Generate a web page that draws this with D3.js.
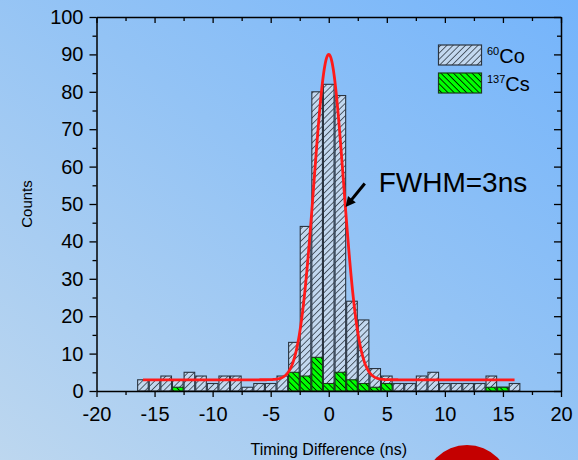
<!DOCTYPE html>
<html>
<head>
<meta charset="utf-8">
<script src="https://cdn.jsdelivr.net/npm/d3@7"></script>
<style>
  body { margin: 0; overflow: hidden; }
  text { font-family: "Liberation Sans", Arial, sans-serif; fill: #000; }
</style>
</head>
<body>
<div id="chart"></div>
<script>
// timing difference bins (ns) and counts per source
var bins = [-16, -15, -14, -13, -12, -11, -10, -9, -8, -7, -6, -5, -4, -3, -2, -1, 0,
            1, 2, 3, 4, 5, 6, 7, 8, 9, 10, 11, 12, 13, 14, 15, 16]
var co60 = [3, 3, 4, 3, 5, 4, 2, 4, 4, 1, 2, 2, 4, 13, 44, 80, 82,
            79, 24, 19, 6, 4, 2, 2, 4, 5, 2, 2, 2, 2, 4, 1, 2]
var cs137 = [0, 0, 0, 1, 0, 0, 0, 0, 0, 0, 0, 0, 0, 5, 4, 9, 2,
             5, 3, 2, 1, 2, 0, 0, 0, 0, 0, 0, 0, 0, 1, 1, 0]

var xTicks = [-20, -15, -10, -5, 0, 5, 10, 15, 20]
var yTicks = [0, 10, 20, 30, 40, 50, 60, 70, 80, 90, 100]

// gaussian fit: baseline, amplitude, centre, FWHM
var fitY0 = 3, fitA = 87, fitXc = 0, fitFwhm = 3
var fitRange = [-16, 16]

var W = 578, H = 460

var svg = d3.select('#chart')
            .append('svg')
            .attr('width', W)
            .attr('height', H)

var defs = svg.append('defs')

var bg = defs.append('linearGradient')
             .attr('id', 'bg')
             .attr('x1', 0).attr('y1', 1)
             .attr('x2', 1).attr('y2', 0)
bg.append('stop').attr('offset', '0%').attr('stop-color', '#bdd7ef')
bg.append('stop').attr('offset', '55%').attr('stop-color', '#93c3f5')
bg.append('stop').attr('offset', '100%').attr('stop-color', '#74b4fb')

function hatch(id, fill, angle, stroke, sw){
  var p = defs.append('pattern')
              .attr('id', id)
              .attr('patternUnits', 'userSpaceOnUse')
              .attr('width', 4.4)
              .attr('height', 4.4)
              .attr('patternTransform', 'rotate(' + angle + ')')
  p.append('rect').attr('width', 4.4).attr('height', 4.4).attr('fill', fill)
  p.append('line')
   .attr('x1', 0).attr('y1', 0).attr('x2', 0).attr('y2', 4.4)
   .attr('stroke', stroke).attr('stroke-width', sw)
}
hatch('coHatch', '#c3d8ef', 45, '#141c26', 1.3)
hatch('csHatch', '#00ff00', -45, '#000', 1.6)

svg.append('rect')
   .attr('width', W)
   .attr('height', H)
   .attr('fill', 'url(#bg)')

var x = d3.scaleLinear().domain([-20, 20]).range([96.5, 561])
var y = d3.scaleLinear().domain([0, 100]).range([391, 17])

var bw = x(1) - x(0)

// 60Co bars
svg.append('g').selectAll('rect')
   .data(bins)
   .enter().append('rect')
   .attr('x', function(d){ return x(d) - bw/2 + 0.5 })
   .attr('y', function(d, i){ return y(co60[i]) })
   .attr('width', bw - 1)
   .attr('height', function(d, i){ return y(0) - y(co60[i]) })
   .attr('fill', 'url(#coHatch)')
   .attr('stroke', '#2a3440')
   .attr('stroke-width', 1.1)

// 137Cs bars on top
svg.append('g').selectAll('rect')
   .data(bins.filter(function(d, i){ return cs137[i] > 0 }))
   .enter().append('rect')
   .attr('x', function(d){ return x(d) - bw/2 + 0.5 })
   .attr('y', function(d){ return y(cs137[bins.indexOf(d)]) })
   .attr('width', bw - 1)
   .attr('height', function(d){ return y(0) - y(cs137[bins.indexOf(d)]) })
   .attr('fill', 'url(#csHatch)')
   .attr('stroke', '#1a3a1a')
   .attr('stroke-width', 1.1)

// fit curve
var sigma = fitFwhm / (2 * Math.sqrt(2 * Math.log(2)))
var fitX = d3.range(fitRange[0], fitRange[1] + 0.001, 0.05)
var line = d3.line()
             .x(function(d){ return x(d) })
             .y(function(d){ return y(fitY0 + fitA * Math.exp(-(d - fitXc) * (d - fitXc) / (2 * sigma * sigma))) })
svg.append('path')
   .datum(fitX)
   .attr('d', line)
   .attr('fill', 'none')
   .attr('stroke', '#ff1a1a')
   .attr('stroke-width', 2.8)

// axes
function styleAxis(g){
  g.select('.domain').attr('stroke', '#000').attr('stroke-width', 1.5)
  g.selectAll('.tick line').attr('stroke', '#000').attr('stroke-width', 1.3)
  g.selectAll('text').style('font-size', '20px').attr('fill', '#000')
}

var xMinor = d3.range(-17.5, 20, 5)
var yMinor = d3.range(5, 100, 10)

var gB = svg.append('g').attr('transform', 'translate(0,' + y(0) + ')')
            .call(d3.axisBottom(x).tickValues(xTicks).tickSize(6).tickSizeOuter(0).tickPadding(10)
            .tickFormat(function(d){ return d < 0 ? '-' + Math.abs(d) : d }))
styleAxis(gB)
svg.append('g').attr('transform', 'translate(0,' + y(0) + ')')
   .call(d3.axisBottom(x).tickValues(xMinor).tickSize(4).tickFormat(''))
   .call(function(g){ g.select('.domain').remove(); styleAxis(g) })

var gT = svg.append('g').attr('transform', 'translate(0,' + y(100) + ')')
            .call(d3.axisBottom(x).tickValues(xTicks).tickSize(6).tickSizeOuter(0).tickFormat(''))
styleAxis(gT)
svg.append('g').attr('transform', 'translate(0,' + y(100) + ')')
   .call(d3.axisBottom(x).tickValues(xMinor).tickSize(4).tickFormat(''))
   .call(function(g){ g.select('.domain').remove(); styleAxis(g) })

var gL = svg.append('g').attr('transform', 'translate(' + x(-20) + ',0)')
            .call(d3.axisLeft(y).tickValues(yTicks).tickSize(7).tickSizeOuter(0).tickPadding(6))
styleAxis(gL)
svg.append('g').attr('transform', 'translate(' + x(-20) + ',0)')
   .call(d3.axisLeft(y).tickValues(yMinor).tickSize(4).tickFormat(''))
   .call(function(g){ g.select('.domain').remove(); styleAxis(g) })

var gR = svg.append('g').attr('transform', 'translate(' + x(20) + ',0)')
            .call(d3.axisLeft(y).tickValues(yTicks).tickSize(7).tickSizeOuter(0).tickFormat(''))
styleAxis(gR)
svg.append('g').attr('transform', 'translate(' + x(20) + ',0)')
   .call(d3.axisLeft(y).tickValues(yMinor).tickSize(4).tickFormat(''))
   .call(function(g){ g.select('.domain').remove(); styleAxis(g) })

// axis titles
svg.append('text')
   .attr('x', x(0))
   .attr('y', 455)
   .attr('text-anchor', 'middle')
   .style('font-size', '16px')
   .text('Timing Difference (ns)')

svg.append('text')
   .attr('transform', 'translate(32,' + y(50) + ') rotate(-90)')
   .attr('text-anchor', 'middle')
   .style('font-size', '15px')
   .text('Counts')

// FWHM annotation
svg.append('text')
   .attr('x', x(4.3))
   .attr('y', y(53.3))
   .style('font-size', '28px')
   .text('FWHM=3ns')

var tip = [x(1.45), y(49.2)], tail = [x(3.1), y(55.5)]
var ang = Math.atan2(tip[1] - tail[1], tip[0] - tail[0])
svg.append('line')
   .attr('x1', tail[0]).attr('y1', tail[1])
   .attr('x2', tip[0] - 6 * Math.cos(ang)).attr('y2', tip[1] - 6 * Math.sin(ang))
   .attr('stroke', '#000')
   .attr('stroke-width', 3)
var ah = 10, aw = 5
svg.append('polygon')
   .attr('points', [
      tip,
      [tip[0] - ah * Math.cos(ang) + aw * Math.sin(ang), tip[1] - ah * Math.sin(ang) - aw * Math.cos(ang)],
      [tip[0] - ah * Math.cos(ang) - aw * Math.sin(ang), tip[1] - ah * Math.sin(ang) + aw * Math.cos(ang)]
   ].map(function(p){ return p.join(',') }).join(' '))
   .attr('fill', '#000')

// legend
var legend = [['60', 'Co', 'url(#coHatch)', '#2a3440'], ['137', 'Cs', 'url(#csHatch)', '#1a3a1a']]
legend.forEach(function(l, i){
  var ly = 45 + i * 28
  svg.append('rect')
     .attr('x', 438.5)
     .attr('y', ly)
     .attr('width', 43)
     .attr('height', 20)
     .attr('fill', l[2])
     .attr('stroke', l[3])
     .attr('stroke-width', 1.2)
  var t = svg.append('text')
             .attr('x', 487)
             .attr('y', ly + 18)
  t.append('tspan').attr('dy', -8).style('font-size', '11px').text(l[0])
  t.append('tspan').attr('dy', 8).style('font-size', '20px').text(l[1])
})

// red circle at the foot of the slide
svg.append('circle')
   .attr('cx', 467)
   .attr('cy', 488)
   .attr('r', 43)
   .attr('fill', '#c40000')
</script>
</body>
</html>
